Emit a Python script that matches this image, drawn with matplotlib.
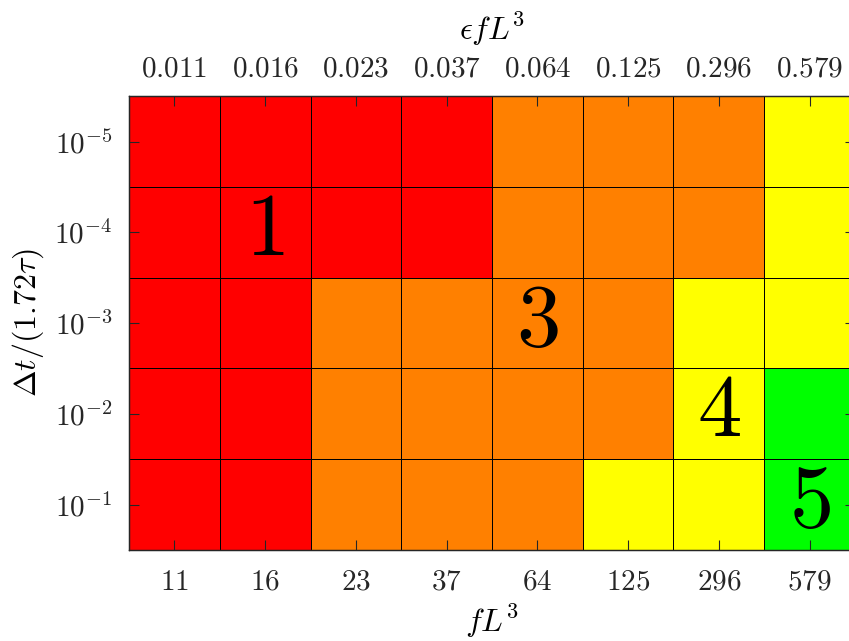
import numpy as np
import matplotlib.pyplot as plt
from matplotlib.colors import ListedColormap, BoundaryNorm

plt.rcParams['mathtext.fontset'] = 'cm'
plt.rcParams['font.family'] = 'serif'
plt.rcParams['font.serif'] = ['cmr10', 'DejaVu Serif']
plt.rcParams['axes.formatter.use_mathtext'] = True

# grid values
fL3 = [11, 16, 23, 37, 64, 125, 296, 579]
eps_fL3 = ['0.011', '0.016', '0.023', '0.037', '0.064', '0.125', '0.296', '0.579']
dt_exp = [-5, -4, -3, -2, -1]

# regime of each cell, rows follow dt_exp, columns follow fL3
regime = np.array([
    [1, 1, 1, 1, 3, 3, 3, 4],
    [1, 1, 1, 1, 3, 3, 3, 4],
    [1, 1, 3, 3, 3, 3, 4, 4],
    [1, 1, 3, 3, 3, 3, 4, 5],
    [1, 1, 3, 3, 3, 4, 4, 5],
])

# big regime labels: (label, column, row)
region_labels = [('1', 1, 1), ('3', 4, 2), ('4', 6, 3), ('5', 7, 4)]

cmap = ListedColormap(['#ff0000', '#ff8000', '#ffff00', '#00ff00'])
norm = BoundaryNorm([0.5, 2, 3.5, 4.5, 5.5], cmap.N)

fig = plt.figure(figsize=(8.49, 6.41), dpi=100)
ax = fig.add_axes([0.152, 0.142, 0.855, 0.708])

nx, ny = len(fL3), len(dt_exp)
ax.pcolormesh(np.arange(nx + 1), np.arange(ny + 1), regime, cmap=cmap, norm=norm,
              edgecolors='k', linewidth=0.6)
ax.set_xlim(0, nx)
ax.set_ylim(ny, 0)

for lab, c, r in region_labels:
    ax.text(c + 0.5, r + 0.5, r'$%s$' % lab, ha='center', va='center',
            fontsize=64, color='k')

ax.set_xticks(np.arange(nx) + 0.5)
ax.set_xticklabels([r'$%d$' % v for v in fL3])
ax.set_yticks(np.arange(ny) + 0.5)
ax.set_yticklabels([r'$10^{%d}$' % e for e in dt_exp])
ax.tick_params(direction='in', length=7, width=0.8, colors='#262626',
               labelsize=21, pad=12, right=True)
ax.tick_params(axis='x', pad=14)
ax.set_xlabel(r'$fL^3$', fontsize=23, labelpad=5)
ax.set_ylabel(r'$\Delta t/(1.72\tau)$', fontsize=23, labelpad=6)

top = ax.twiny()
top.set_xlim(ax.get_xlim())
top.set_xticks(np.arange(nx) + 0.5)
top.set_xticklabels([r'$%s$' % s for s in eps_fL3])
top.tick_params(direction='in', length=7, width=0.8, colors='#262626',
                labelsize=21, pad=10)
top.set_xlabel(r'$\epsilon fL^3$', fontsize=23, labelpad=12)

for a in (ax, top):
    for s in a.spines.values():
        s.set_color('#262626')
        s.set_linewidth(0.9)

fig.savefig('out.png', dpi=100)
